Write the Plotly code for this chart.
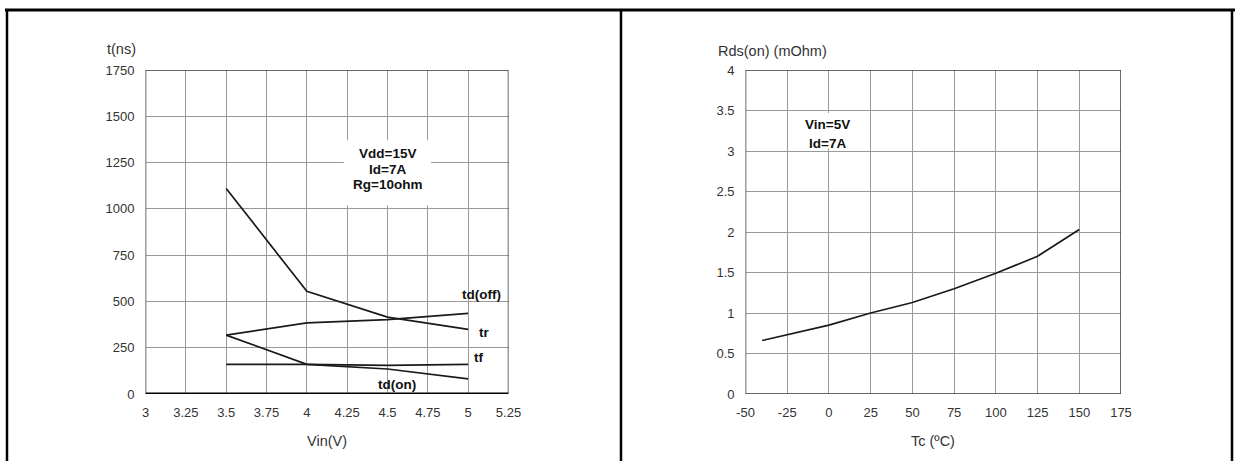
import plotly.graph_objects as go

# ---- data (left chart: switching times vs Vin) ----
vin = [3.5, 4.0, 4.5, 5.0]
td_off = [318, 384, 402, 436]
tr = [1110, 555, 415, 349]
tf = [160, 160, 155, 160]
td_on = [318, 160, 135, 82]

# ---- data (right chart: Rds(on) vs Tc) ----
tc = [-40, -25, 0, 25, 50, 75, 100, 125, 150]
rds = [0.66, 0.73, 0.85, 1.0, 1.13, 1.3, 1.49, 1.7, 2.03]

# tick labels of the Tc axis (ASCII hyphen as in the original)
tc_ticks = [-50, -25, 0, 25, 50, 75, 100, 125, 150, 175]
tc_ticklabels = ["-50", "-25", "0", "25", "50", "75", "100", "125", "150", "175"]

W, H = 1235, 461
FONT = "Liberation Sans, Arial, sans-serif"
LINE = "#1a1a1a"
GRID = "#9a9a9a"


def px(x):
    return x / W


def py(y):
    return 1 - y / H


fig = go.Figure()
for name, ys in [("td(off)", td_off), ("tr", tr), ("tf", tf), ("td(on)", td_on)]:
    fig.add_trace(go.Scatter(x=vin, y=ys, mode="lines", name=name,
                             line=dict(color=LINE, width=1.7),
                             xaxis="x", yaxis="y", showlegend=False))
fig.add_trace(go.Scatter(x=tc, y=rds, mode="lines", name="Rds(on)",
                         line=dict(color=LINE, width=1.7),
                         xaxis="x2", yaxis="y2", showlegend=False))

tickfont = dict(family=FONT, size=13, color="#333333")
common = dict(showgrid=True, gridcolor=GRID, gridwidth=1, zeroline=False,
              showline=False, ticks="", tickfont=tickfont, fixedrange=True,
              automargin=False)

fig.update_layout(
    template="none",
    width=W, height=H, autosize=False,
    margin=dict(l=0, r=0, t=0, b=0, pad=0, autoexpand=False),
    paper_bgcolor="white", plot_bgcolor="white",
    xaxis=dict(domain=[px(145.5), px(508.5)], range=[3, 5.25], tick0=3, dtick=0.25,
               anchor="y", ticklabelstandoff=9, **common),
    yaxis=dict(domain=[py(394), py(70)], range=[0, 1750], tick0=0, dtick=250,
               anchor="x", ticklabelstandoff=10, **common),
    xaxis2=dict(domain=[px(745.5), px(1121)], range=[-50, 175],
                tickmode="array", tickvals=tc_ticks, ticktext=tc_ticklabels,
                anchor="y2", ticklabelstandoff=9, **common),
    yaxis2=dict(domain=[py(394), py(70)], range=[0, 4], tick0=0, dtick=0.5,
                anchor="x2", ticklabelstandoff=10, **common),
)

shapes = []
# white boxes behind the condition texts (between grid and traces)
shapes.append(dict(type="rect", xref="x", yref="y", x0=4.23, x1=4.77, y0=1020, y1=1370,
                   fillcolor="white", line=dict(width=0), layer="between"))
shapes.append(dict(type="rect", xref="x2", yref="y2", x0=-20, x1=18, y0=3.03, y1=3.47,
                   fillcolor="white", line=dict(width=0), layer="between"))
# plot frames
shapes.append(dict(type="rect", xref="x", yref="y", x0=3, x1=5.25, y0=0, y1=1750,
                   line=dict(color="#3a3a3a", width=1.5)))
shapes.append(dict(type="line", xref="x", yref="y", x0=3, x1=5.25, y0=0, y1=0,
                   line=dict(color="black", width=3)))
shapes.append(dict(type="rect", xref="x2", yref="y2", x0=-50, x1=175, y0=0, y1=4,
                   line=dict(color="#3a3a3a", width=1.5)))
# panel borders
shapes.append(dict(type="line", xref="paper", yref="paper", x0=px(5), x1=px(1235),
                   y0=py(10), y1=py(10), line=dict(color="black", width=3)))
for xb in (7, 621, 1232):
    shapes.append(dict(type="line", xref="paper", yref="paper", x0=px(xb), x1=px(xb),
                       y0=py(10), y1=0, line=dict(color="black", width=2.5)))
fig.update_layout(shapes=shapes)

bold = dict(family=FONT, size=13.5, color="#111111", weight="bold")
reg = dict(family=FONT, size=14.5, color="#333333")
ann = []
for txt, y in [("Vdd=15V", 1297), ("Id=7A", 1213), ("Rg=10ohm", 1131)]:
    ann.append(dict(x=4.5, y=y, xref="x", yref="y", text=txt, showarrow=False, font=bold))
for txt, y in [("Vin=5V", 3.33), ("Id=7A", 3.09)]:
    ann.append(dict(x=-1, y=y, xref="x2", yref="y2", text=txt, showarrow=False, font=bold))
for txt, x, y in [("td(off)", 5.08, 536), ("tr", 5.10, 331), ("tf", 5.065, 197), ("td(on)", 4.56, 52)]:
    ann.append(dict(x=x, y=y, xref="x", yref="y", text=txt, showarrow=False, font=bold))
# axis titles
ann.append(dict(x=px(105), y=py(49), xref="paper", yref="paper", text="t(ns)",
                xanchor="left", yanchor="middle", showarrow=False, font=reg))
ann.append(dict(x=px(327), y=py(441), xref="paper", yref="paper", text="Vin(V)",
                xanchor="center", yanchor="middle", showarrow=False, font=reg))
ann.append(dict(x=px(716), y=py(51), xref="paper", yref="paper", text="Rds(on) (mOhm)",
                xanchor="left", yanchor="middle", showarrow=False, font=reg))
ann.append(dict(x=px(933), y=py(441), xref="paper", yref="paper", text="Tc (ºC)",
                xanchor="center", yanchor="middle", showarrow=False, font=reg))
fig.update_layout(annotations=ann)

fig.write_html("out.html", config={"displayModeBar": False},
               post_script="document.body.style.margin='0px';")
